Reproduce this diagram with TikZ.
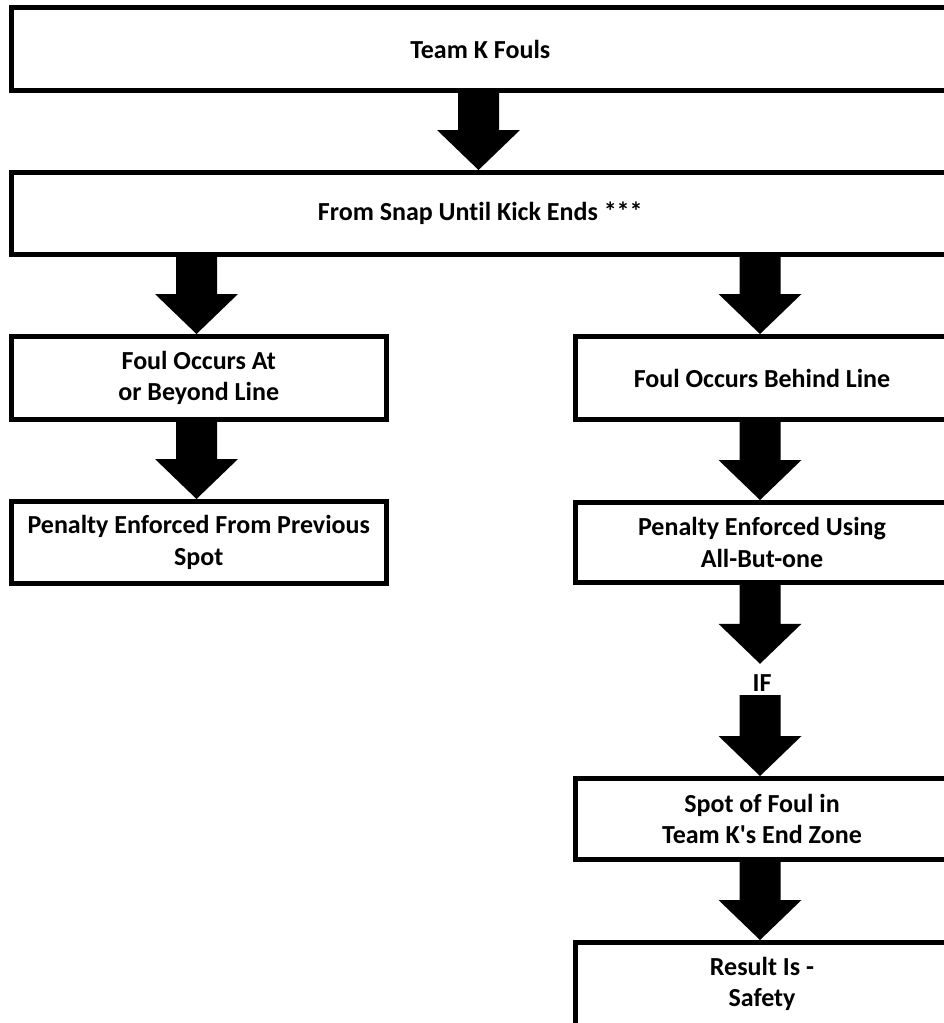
\documentclass[tikz,border=0pt]{standalone}
\usepackage{fontspec}
\setmainfont{Carlito}[Ligatures={NoCommon}]
\usetikzlibrary{calc}
\tikzset{
  box/.style={draw=black, line width=5pt, rectangle, align=center, inner sep=0pt,
    font=\fontsize{26pt}{31.7pt}\selectfont\bfseries},
  lbl/.style={inner sep=0pt, font=\fontsize{26pt}{31.7pt}\selectfont\bfseries},
  barrowfill/.style={fill=black},
}
\newcommand\blockarrow[3]{%
  \fill[barrowfill] let \p1=(#1), \p2=(#2) in
   (#3pt-20.5pt,\y1) -- (#3pt+20.5pt,\y1) -- (#3pt+20.5pt,\y2+40pt) --
   (#3pt+41.5pt,\y2+40pt) -- (#3pt,\y2) -- (#3pt-41.5pt,\y2+40pt) --
   (#3pt-20.5pt,\y2+40pt) -- cycle;}
\begin{document}
\begin{tikzpicture}[x=1pt,y=-1pt]
\useasboundingbox (0,0) rectangle (944,1023);
\fill[white] (0,0) rectangle (944,1023);
\clip (0,0) rectangle (944,1023);
\node[box, minimum width=937.5pt, minimum height=83pt] (A) at (480.25,49) {Team K Fouls};
\node[box, minimum width=937.5pt, minimum height=82pt] (B) at (480.25,213.5) {From Snap Until Kick Ends ***};
\node[box, minimum width=374.5pt, minimum height=83pt] (C) at (198.75,378) {Foul Occurs At\\or Beyond Line};
\node[box, minimum width=374pt, minimum height=83pt] (D) at (762,378) {Foul Occurs Behind Line};
\node[box, minimum width=374.5pt, minimum height=81.5pt] (E) at (198.75,542.25) {Penalty Enforced From Previous\\Spot};
\node[box, minimum width=374pt, minimum height=80pt] (F) at (762,542.5) {Penalty Enforced Using\\All-But-one};
\node[lbl, anchor=base, text height=27.5pt, text depth=3.5pt] (IF) at (762,691.5) {IF};
\node[box, minimum width=374pt, minimum height=81pt] (G) at (762,819) {Spot of Foul in\\Team K\textquotesingle s End Zone};
\node[box, minimum width=374pt, minimum height=83pt] (H) at (762,984) {Result Is -\\Safety};
\blockarrow{A.south}{B.north}{478.5}
\blockarrow{B.south}{C.north}{196.5}
\blockarrow{B.south}{D.north}{760}
\blockarrow{C.south}{E.north}{196.5}
\blockarrow{D.south}{F.north}{760}
\blockarrow{F.south}{IF.north}{760}
\blockarrow{IF.south}{G.north}{760}
\blockarrow{G.south}{H.north}{760}
\end{tikzpicture}
\end{document}
